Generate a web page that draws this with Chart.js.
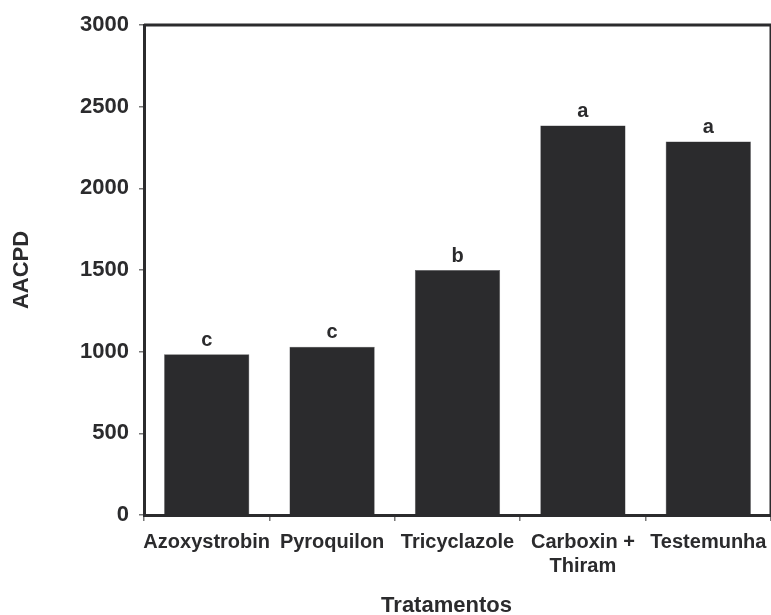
<!DOCTYPE html>
<html>
<head>
<meta charset="utf-8">
<script src="https://cdn.jsdelivr.net/npm/chart.js@4/dist/chart.umd.min.js"></script>
<style>
  html, body { margin: 0; padding: 0; background: #ffffff; }
  #wrap { width: 771px; height: 615px; position: relative; }
</style>
</head>
<body>
<div id="wrap"><canvas id="c" width="771" height="615"></canvas></div>
<script>
const categories = ['Azoxystrobin', 'Pyroquilon', 'Tricyclazole', ['Carboxin +', 'Thiram'], 'Testemunha'];
const aacpdValues = [984, 1030, 1500, 2384, 2286];
const letters = ['c', 'c', 'b', 'a', 'a'];
const yTicks = [0, 500, 1000, 1500, 2000, 2500, 3000];
const xTitle = 'Tratamentos';
const yTitle = 'AACPD';

const INK = '#2b2b2d';
const FONT = "'Liberation Sans', Arial, sans-serif";

const letterPlugin = {
  id: 'letters',
  afterDatasetsDraw(chart) {
    const ctx = chart.ctx;
    const meta = chart.getDatasetMeta(0);
    ctx.save();
    ctx.fillStyle = INK;
    ctx.font = 'bold 20px ' + FONT;
    ctx.textAlign = 'center';
    ctx.textBaseline = 'bottom';
    meta.data.forEach((bar, i) => {
      ctx.fillText(letters[i], bar.x, bar.y - 4);
    });
    ctx.restore();
  }
};

const framePlugin = {
  id: 'frame',
  afterDraw(chart) {
    const a = chart.chartArea;
    const ctx = chart.ctx;
    ctx.save();
    ctx.strokeStyle = INK;
    ctx.lineWidth = 3;
    ctx.beginPath();
    ctx.moveTo(a.left, a.top);
    ctx.lineTo(a.right, a.top);
    ctx.lineTo(a.right, a.bottom);
    ctx.stroke();
    // x-axis title, slightly left of the plot centre as in the reference
    ctx.fillStyle = INK;
    ctx.font = 'bold 22px ' + FONT;
    ctx.textAlign = 'center';
    ctx.textBaseline = 'alphabetic';
    ctx.fillText(xTitle, (a.left + a.right) / 2 - 11, 612);
    ctx.restore();
  }
};

new Chart(document.getElementById('c'), {
  type: 'bar',
  data: {
    labels: categories,
    datasets: [{
      data: aacpdValues,
      backgroundColor: INK,
      borderColor: '#555558',
      borderWidth: 0.5,
      barPercentage: 0.68,
      categoryPercentage: 1.0
    }]
  },
  options: {
    responsive: false,
    animation: false,
    devicePixelRatio: 1,
    layout: { padding: { top: 25, right: 0, left: 0, bottom: 0 } },
    plugins: {
      legend: { display: false },
      tooltip: { enabled: false }
    },
    scales: {
      x: {
        grid: { drawOnChartArea: false, drawTicks: true, tickLength: 6, color: '#777', lineWidth: 1.5, offset: true },
        border: { display: true, color: INK, width: 3 },
        ticks: {
          color: INK,
          font: { family: FONT, size: 20, weight: 'bold', lineHeight: 1.2 },
          padding: 9,
          maxRotation: 0,
          autoSkip: false
        },
        title: { display: false },
        afterFit(scale) {
          scale.height = 100;
          scale.paddingRight = 0;
          scale.paddingLeft = 0;
        }
      },
      y: {
        min: 0,
        max: 3000,
        afterBuildTicks(scale) { scale.ticks = yTicks.map(v => ({ value: v })); },
        grid: { drawOnChartArea: false, drawTicks: true, tickLength: 5, color: '#777', lineWidth: 1.5 },
        border: { display: true, color: INK, width: 3 },
        ticks: {
          color: INK,
          font: { family: FONT, size: 22, weight: 'bold' },
          padding: 10,
          callback: (v) => String(v)
        },
        title: {
          display: true,
          text: yTitle,
          color: INK,
          font: { family: FONT, size: 22, weight: 'bold' },
          padding: { top: 9, bottom: 0 }
        },
        afterFit(scale) { scale.width = 144; }
      }
    }
  },
  plugins: [letterPlugin, framePlugin]
});
</script>
</body>
</html>
